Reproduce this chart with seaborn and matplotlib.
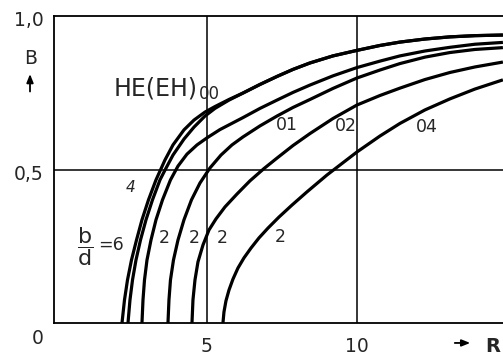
import matplotlib
matplotlib.use("Agg")
import matplotlib.pyplot as plt
import pandas as pd
import seaborn as sns

# Normalised propagation constant B versus normalised frequency R
# HE(EH)00, b/d = 6
r_00_6 = [2.167, 2.25, 2.35, 2.483, 2.65, 2.833, 3.05, 3.3, 3.6, 3.867, 4.233, 4.567, 4.933,
          5.267, 5.733, 6.2, 6.767, 7.333, 7.867, 8.433, 9.2, 10.0, 10.767, 11.433, 12.267,
          13.1, 13.933, 14.867]
b_00_6 = [0.0, 0.075, 0.140, 0.205, 0.270, 0.336, 0.401, 0.466, 0.531, 0.580, 0.629, 0.661, 0.687,
          0.705, 0.728, 0.749, 0.777, 0.803, 0.826, 0.847, 0.870, 0.888, 0.904, 0.915, 0.925,
          0.932, 0.936, 0.938]
# HE(EH)00, b/d = 4 (joins the b/d = 6 branch above R = 6)
r_00_4 = [2.367, 2.433, 2.517, 2.633, 2.783, 2.967, 3.183, 3.433, 3.6, 3.867, 4.233, 4.567, 4.933,
          5.267, 5.733, 6.2, 6.767, 7.333, 7.867, 8.433, 9.2, 10.0, 10.767, 11.433, 12.267,
          13.1, 13.933, 14.867]
b_00_4 = [0.0, 0.075, 0.140, 0.205, 0.270, 0.336, 0.401, 0.466, 0.498, 0.547, 0.599, 0.638, 0.674,
          0.699, 0.726, 0.749, 0.777, 0.803, 0.826, 0.847, 0.870, 0.888, 0.904, 0.915, 0.925,
          0.932, 0.936, 0.938]
# HE(EH)00, b/d = 2
r_00_2 = [2.833, 2.867, 2.917, 3.0, 3.133, 3.3, 3.517, 3.783, 4.033, 4.333, 4.667, 5.0, 5.433,
          6.2, 6.767, 7.333, 7.867, 8.433, 9.2, 10.0, 10.767, 11.433, 12.267, 13.1, 13.933, 14.867]
b_00_2 = [0.0, 0.075, 0.140, 0.205, 0.270, 0.336, 0.401, 0.466, 0.511, 0.550, 0.580, 0.603, 0.630,
          0.669, 0.699, 0.726, 0.751, 0.775, 0.805, 0.832, 0.853, 0.870, 0.886, 0.898, 0.908, 0.914]
# HE(EH)01, b/d = 2
r_01_2 = [3.7, 3.733, 3.783, 3.883, 4.033, 4.233, 4.483, 4.767, 5.1, 5.467, 5.833, 6.2, 6.767,
          7.333, 7.867, 8.433, 9.2, 10.0, 10.767, 11.433, 12.267, 13.1, 13.933, 14.867]
b_01_2 = [0.0, 0.075, 0.140, 0.205, 0.270, 0.336, 0.401, 0.456, 0.505, 0.547, 0.580, 0.606, 0.642,
          0.674, 0.702, 0.728, 0.764, 0.798, 0.824, 0.845, 0.866, 0.881, 0.891, 0.897]
# HE(EH)02, b/d = 2
r_02_2 = [4.5, 4.533, 4.6, 4.7, 4.867, 5.067, 5.3, 5.6, 6.0, 6.433, 6.9, 7.333, 7.867, 8.433,
          9.2, 10.0, 10.767, 11.433, 12.267, 13.1, 13.933, 14.867]
b_02_2 = [0.0, 0.075, 0.140, 0.199, 0.254, 0.303, 0.339, 0.378, 0.420, 0.463, 0.503, 0.537, 0.578,
          0.617, 0.666, 0.710, 0.741, 0.765, 0.793, 0.816, 0.834, 0.850]
# HE(EH)04, b/d = 2
r_04_2 = [5.533, 5.567, 5.633, 5.733, 5.867, 6.033, 6.233, 6.467, 6.733, 7.033, 7.4, 7.833, 8.333,
          9.0, 10.0, 10.767, 11.433, 12.267, 13.1, 13.933, 14.867]
b_04_2 = [0.0, 0.036, 0.072, 0.107, 0.143, 0.179, 0.212, 0.244, 0.277, 0.309, 0.345, 0.384, 0.427,
          0.482, 0.557, 0.609, 0.650, 0.694, 0.730, 0.762, 0.792]

curves = {
    "00/6": (r_00_6, b_00_6),
    "00/4": (r_00_4, b_00_4),
    "00/2": (r_00_2, b_00_2),
    "01/2": (r_01_2, b_01_2),
    "02/2": (r_02_2, b_02_2),
    "04/2": (r_04_2, b_04_2),
}

x_ticks = [5, 10]
x_tick_labels = ["5", "10"]
y_ticks = [0.5, 1.0]
y_tick_labels = ["0,5", "1,0"]

# curve annotations: text, R, B
mode_labels = [("01", 7.67, 0.645), ("02", 9.63, 0.642), ("04", 12.33, 0.638)]
ratio_labels = [("2", 3.57, 0.277), ("2", 4.57, 0.277), ("2", 5.5, 0.277), ("2", 7.43, 0.28)]

df = pd.concat(
    [pd.DataFrame({"R": r, "B": b, "curve": name}) for name, (r, b) in curves.items()],
    ignore_index=True,
)

sns.set_style("white")
plt.rcParams["font.family"] = ["DejaVu Sans"]
plt.rcParams["mathtext.fontset"] = "dejavusans"

fig = plt.figure(figsize=(5.03, 3.61), dpi=100)
ax = fig.add_axes([54 / 503, 38 / 361, 449 / 503, 307 / 361])

sns.lineplot(data=df, x="R", y="B", units="curve", estimator=None, sort=False,
             color="black", lw=2.3, ax=ax, legend=False,
             solid_capstyle="butt", solid_joinstyle="round")

ax.set_xlim(-0.1, 14.87)
ax.set_ylim(0, 1.0)

for xv in x_ticks:
    ax.axvline(xv, color="black", lw=1.1, zorder=0)
ax.axhline(0.5, color="black", lw=1.1, zorder=0)

for s in ["left", "top", "bottom"]:
    ax.spines[s].set_color("black")
    ax.spines[s].set_linewidth(1.3)
ax.spines["right"].set_visible(False)
ax.set_xticks([])
ax.set_yticks([])
ax.set_xlabel("")
ax.set_ylabel("")

fs = 13.5
tk = dict(ha="center", va="center", fontsize=fs, clip_on=False)
for xv, lab in zip(x_ticks, x_tick_labels):
    ax.text(xv, -0.078, lab, **tk)
for yv, lab in zip(y_ticks, y_tick_labels):
    ax.text(-0.93, yv - 0.015, lab, **tk)
ax.text(-0.63, -0.052, "0", **tk)

# axis names with arrows
ax.text(-0.87, 0.863, "B", **tk)
ax.annotate("", xy=(-0.9, 0.82), xytext=(-0.9, 0.745), annotation_clip=False,
            arrowprops=dict(arrowstyle="-|>,head_length=0.5,head_width=0.2", color="black", lw=1.3))
ax.text(14.53, -0.075, "R", ha="center", va="center", fontsize=14, fontweight="bold",
        clip_on=False)
ax.annotate("", xy=(13.87, -0.065), xytext=(13.17, -0.065), annotation_clip=False,
            arrowprops=dict(arrowstyle="-|>,head_length=0.5,head_width=0.2", color="black", lw=1.3))

# mode names
ax.text(3.3, 0.765, "HE(EH)", ha="center", va="center", fontsize=17)
ax.text(5.07, 0.745, "00", ha="center", va="center", fontsize=12)
for lab, r, b in mode_labels:
    ax.text(r, b, lab, ha="center", va="center", fontsize=12.5)
for lab, r, b in ratio_labels:
    ax.text(r, b, lab, ha="center", va="center", fontsize=12.5)
ax.text(2.47, 0.44, "4", ha="center", va="center", fontsize=11, style="italic")
ax.text(0.93, 0.248, r"$\dfrac{\mathregular{b}}{\mathregular{d}}$", ha="center", va="center", fontsize=16)
ax.text(1.8, 0.254, "=6", ha="center", va="center", fontsize=12.5)

fig.savefig("out.png", dpi=100)
